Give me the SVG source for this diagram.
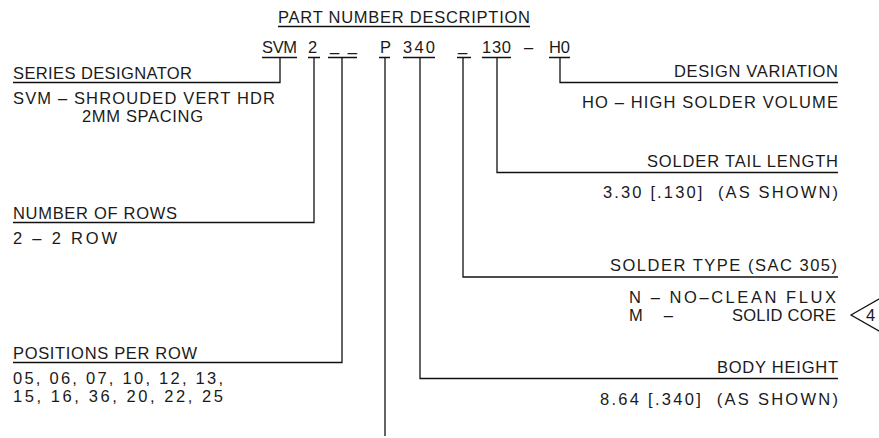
<svg xmlns="http://www.w3.org/2000/svg" width="879" height="438" viewBox="0 0 879 438">
<style>
text{font-family:"Liberation Sans",Arial,sans-serif;font-size:16.5px;fill:#1a1a1a}
.ln{fill:none;stroke:#111;stroke-width:1.3}
</style>
<rect width="879" height="438" fill="#fff"/>
<g id="title">
<text x="278" y="23" textLength="252" lengthAdjust="spacing">PART NUMBER DESCRIPTION</text>
<path class="ln" d="M278 26.5H530"/>
</g>
<g id="part-number">
<text x="262" y="53" textLength="35" lengthAdjust="spacing">SVM</text>
<text x="308" y="53" textLength="11" lengthAdjust="spacing">2</text>
<text x="330" y="51" textLength="27" lengthAdjust="spacing">__</text>
<text x="380" y="53" textLength="9" lengthAdjust="spacing">P</text>
<text x="403" y="53" textLength="32" lengthAdjust="spacing">340</text>
<text x="458" y="51" textLength="12" lengthAdjust="spacing">_</text>
<text x="482" y="53" textLength="29" lengthAdjust="spacing">130</text>
<text x="524" y="53" textLength="10" lengthAdjust="spacing">–</text>
<text x="549" y="53" textLength="21" lengthAdjust="spacing">H0</text>
<path class="ln" d="M262 57.5H297M308 57.5H320M328 57.5H357M379 57.5H390M403 57.5H435M457 57.5H471M482 57.5H511M549 57.5H570"/>
</g>
<g id="connectors">
<path class="ln" d="M280 57.5V82.5H13"/>
<path class="ln" d="M314 57.5V222.5H13"/>
<path class="ln" d="M342 57.5V362.5H13"/>
<path class="ln" d="M385 57.5V436"/>
<path class="ln" d="M420 57.5V378.5H838"/>
<path class="ln" d="M463 57.5V277H838"/>
<path class="ln" d="M497 57.5V172.5H838"/>
<path class="ln" d="M560 57.5V82.5H838"/>
</g>
<g id="series-designator">
<text x="13" y="79" textLength="179" lengthAdjust="spacing">SERIES DESIGNATOR</text>
<text x="13" y="104" textLength="262" lengthAdjust="spacing">SVM – SHROUDED VERT HDR</text>
<text x="82" y="122" textLength="121" lengthAdjust="spacing">2MM SPACING</text>
</g>
<g id="number-of-rows">
<text x="13" y="218.5" textLength="164" lengthAdjust="spacing">NUMBER OF ROWS</text>
<text x="13" y="244" textLength="104" lengthAdjust="spacing">2 – 2 ROW</text>
</g>
<g id="positions-per-row">
<text x="13" y="359" textLength="184" lengthAdjust="spacing">POSITIONS PER ROW</text>
<text x="13" y="383.5" textLength="210" lengthAdjust="spacing">05, 06, 07, 10, 12, 13,</text>
<text x="13" y="401.5" textLength="210" lengthAdjust="spacing">15, 16, 36, 20, 22, 25</text>
</g>
<g id="design-variation">
<text x="674" y="76.5" textLength="164" lengthAdjust="spacing">DESIGN VARIATION</text>
<text x="582" y="107.5" textLength="256" lengthAdjust="spacing">HO – HIGH SOLDER VOLUME</text>
</g>
<g id="solder-tail-length">
<text x="647" y="166.5" textLength="191" lengthAdjust="spacing">SOLDER TAIL LENGTH</text>
<text x="603" y="198" textLength="235" lengthAdjust="spacing" xml:space="preserve">3.30 [.130]  (AS SHOWN)</text>
</g>
<g id="solder-type">
<text x="610" y="270.5" textLength="227" lengthAdjust="spacing">SOLDER TYPE (SAC 305)</text>
<text x="629" y="302.5" textLength="207" lengthAdjust="spacing">N – NO–CLEAN FLUX</text>
<text x="629" y="320.5" textLength="44" lengthAdjust="spacing">M –</text>
<text x="732" y="320.5" textLength="104" lengthAdjust="spacing">SOLID CORE</text>
<polygon class="ln" points="851,315 893,291 893,339"/>
<text x="866" y="320.5" textLength="9" lengthAdjust="spacing">4</text>
</g>
<g id="body-height">
<text x="717" y="373" textLength="121" lengthAdjust="spacing">BODY HEIGHT</text>
<text x="600" y="404.5" textLength="238" lengthAdjust="spacing" xml:space="preserve">8.64 [.340]  (AS SHOWN)</text>
</g>
</svg>
